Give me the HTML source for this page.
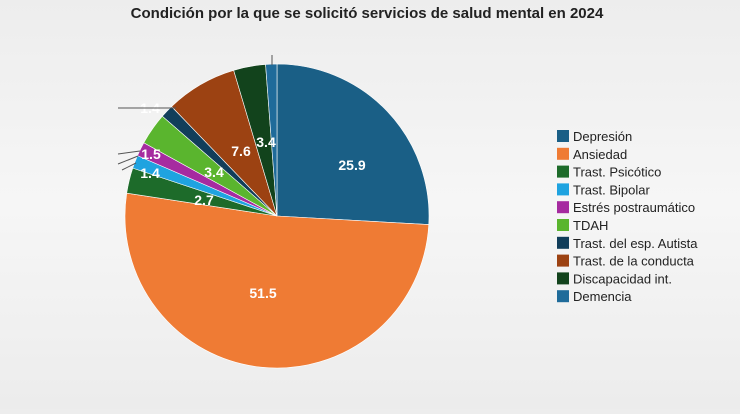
<!DOCTYPE html>
<html><head><meta charset="utf-8"><style>
body{margin:0;width:740px;height:409px;overflow:hidden;background:linear-gradient(#ededed,#f6f6f6 50%,#ececec);font-family:"Liberation Sans",sans-serif}
</style></head><body>
<svg id="s" width="740" height="409" xmlns="http://www.w3.org/2000/svg">
<text x="367" y="18" text-anchor="middle" font-size="15" font-weight="bold" fill="#222">Condición por la que se solicitó servicios de salud mental en 2024</text>
<g id="pie"></g>
<g font-size="14" font-weight="bold" fill="#fff" text-anchor="middle">
<text x="352" y="170">25.9</text>
<text x="263" y="298">51.5</text>
<text x="204" y="205">2.7</text>
<text x="150" y="178">1.4</text>
<text x="151" y="159">1.5</text>
<text x="214" y="177">3.4</text>
<text x="241" y="156">7.6</text>
<text x="266" y="147">3.4</text>
<text x="150" y="113">1.4</text>
</g>
<g stroke="#555" stroke-width="1">
<line x1="118" y1="108" x2="176" y2="108"/><line x1="118" y1="154" x2="140" y2="151"/><line x1="118" y1="164" x2="138" y2="156"/><line x1="122" y1="170" x2="136" y2="163"/><line x1="272" y1="55" x2="272" y2="65"/>
</g>
<g id="leg" font-size="13" fill="#222"></g>
</svg>
<script>
var d=[[25.9,"#1a5f86","Depresión"],[51.5,"#ef7b34","Ansiedad"],[2.7,"#1d6b2a","Trast. Psicótico"],[1.4,"#1fa3e0","Trast. Bipolar"],[1.5,"#a62ba0","Estrés postraumático"],[3.4,"#5ab52e","TDAH"],[1.4,"#113e5a","Trast. del esp. Autista"],[7.6,"#9c4212","Trast. de la conducta"],[3.4,"#12431c","Discapacidad int."],[1.2,"#1f6b9a","Demencia"]];
var cx=277,cy=216,r=152,a=0,p="",l="";
function pt(a){var t=a*2*Math.PI/100;return [cx+r*Math.sin(t),cy-r*Math.cos(t)];}
d.forEach(function(e,i){var s=pt(a);a+=e[0];var f=pt(a);
p+='<path d="M'+cx+','+cy+'L'+s[0]+','+s[1]+'A'+r+','+r+' 0 '+(e[0]>50?1:0)+' 1 '+f[0]+','+f[1]+'Z" fill="'+e[1]+'" stroke="#fff" stroke-width="0.6"/>';
var y=130+i*17.8;l+='<rect x="557" y="'+y+'" width="12" height="12" fill="'+e[1]+'"/><text x="573" y="'+(y+11)+'">'+e[2]+'</text>';});
document.getElementById("pie").innerHTML=p;document.getElementById("leg").innerHTML=l;
</script>
</body></html>
